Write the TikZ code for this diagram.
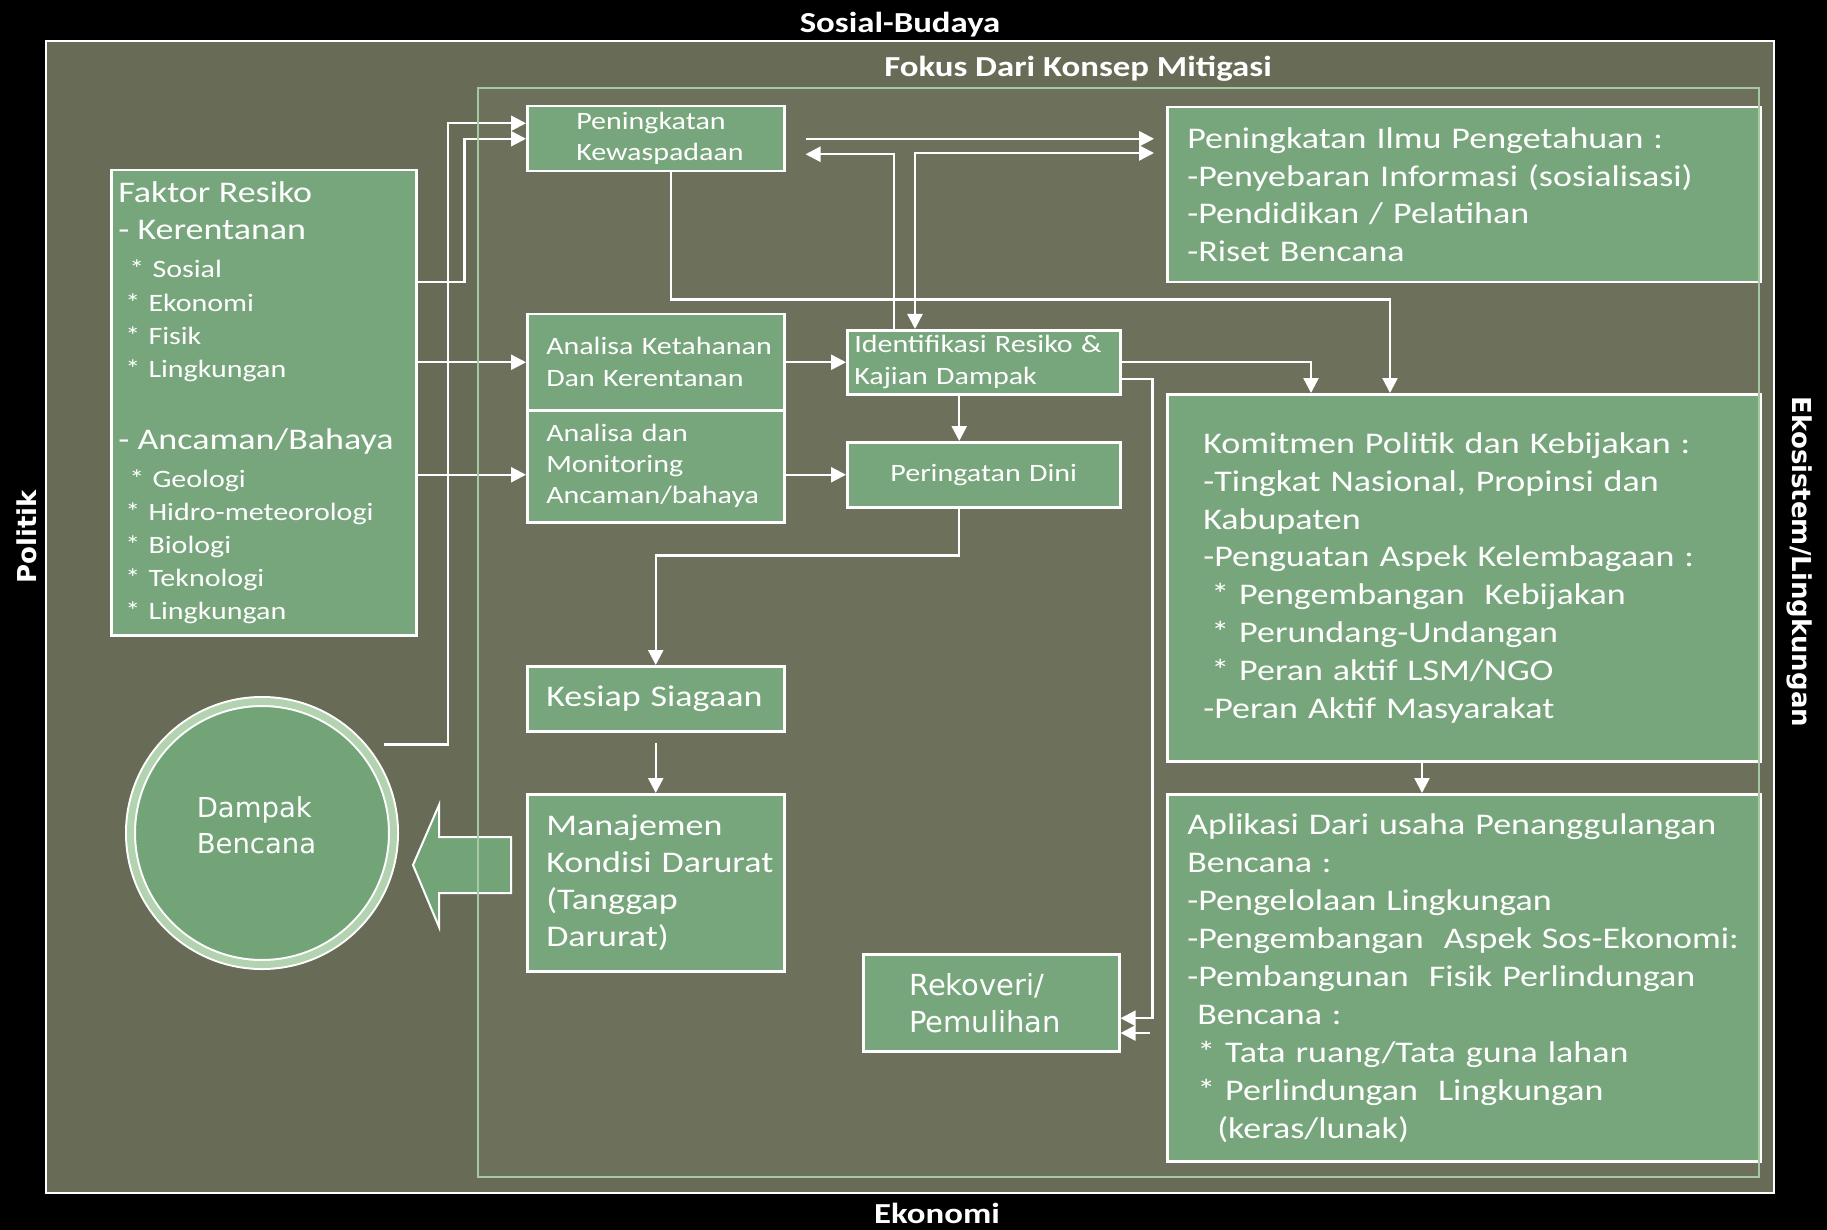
\documentclass[tikz,border=0pt]{standalone}
\usepackage{fontspec}
\setmainfont{Carlito}[FakeStretch=1.2]
\newfontfamily\dejavu{DejaVu Sans}
\usetikzlibrary{arrows.meta}

\definecolor{bgolive}{HTML}{686B56}
\definecolor{inolive}{HTML}{6D715B}
\definecolor{boxgreen}{HTML}{78A67C}
\definecolor{circgreen}{HTML}{72A477}
\definecolor{ringgreen}{HTML}{B3D2B0}
\definecolor{framegreen}{HTML}{A6C8A2}

\begin{document}
\begin{tikzpicture}[x=1pt, y=-1pt,
    box/.style={draw=white, line width=2.5pt, fill=boxgreen, text=white,
      inner xsep=0pt, inner ysep=0pt, anchor=north west, align=left},
    boxsize/.style 2 args={text width=#1pt, minimum width=#1pt, minimum height=#2pt},
    pad/.style={execute at begin node={\leftskip=#1pt}},
    big/.style={font=\fontsize{30}{#1}\selectfont},
    small/.style={font=\fontsize{25}{#1}\selectfont},
    conn/.style={draw=white, line width=2.4pt},
    arr/.style={conn, -{Triangle[length=15pt,width=15pt]}},
    arr2/.style={conn, {Triangle[length=15pt,width=15pt]}-{Triangle[length=15pt,width=15pt]}},
    toptitle/.style={text=white, font=\fontsize{29}{30}\selectfont\bfseries, anchor=base},
    sidetitle/.style={text=white, font=\dejavu\fontsize{26}{28}\selectfont\bfseries}]

  \useasboundingbox (0,0) rectangle (1827,1230);
  \fill[black] (0,0) rectangle (1827,1230);
  \draw[white, line width=2.5pt, fill=bgolive] (46,41) rectangle (1774,1193);
  \fill[inolive] (478,88) rectangle (1759,1177);

  \node[toptitle] (sosbud) at (900,33) {Sosial-Budaya};
  \node[toptitle] (fokus) at (1078,77) {Fokus Dari Konsep Mitigasi};
  \node[toptitle] (ekonomi) at (937,1223) {Ekonomi};
  \node[sidetitle, rotate=90] (politik) at (27,537) {Politik};
  \node[sidetitle, rotate=-90] (ekosistem) at (1800,562) {Ekosistem/Lingkungan};

  \node[box, boxsize={305}{465}, pad=7, small=33] (fr) at (110,169) {%
    {\fontsize{30}{33}\selectfont Faktor Resiko}\\[4pt]
    {\fontsize{30}{33}\selectfont - Kerentanan}\\[5pt]
    \hspace*{11pt}* Sosial\\[1pt]
    \hspace*{7pt}* Ekonomi\\
    \hspace*{7pt}* Fisik\\
    \hspace*{7pt}* Lingkungan\\[39pt]
    {\fontsize{30}{33}\selectfont - Ancaman/Bahaya}\\[5pt]
    \hspace*{11pt}* Geologi\\
    \hspace*{7pt}* Hidro-meteorologi\\
    \hspace*{7pt}* Biologi\\
    \hspace*{7pt}* Teknologi\\
    \hspace*{7pt}* Lingkungan};

  \node[box, boxsize={257}{65}, pad=49, small=31] (pk) at (526,105) {Peningkatan\\Kewaspadaan};
  \node[box, boxsize={257}{96}, pad=19, small=32] (ak) at (526,313) {Analisa Ketahanan\\Dan Kerentanan};
  \node[box, boxsize={257}{112}, pad=19, small=31] (am) at (526,409) {Analisa dan\\Monitoring\\Ancaman/bahaya};
  \node[box, boxsize={273}{64}, pad=7, small=32] (id) at (846,329) {Identifikasi Resiko \&\\Kajian Dampak};
  \node[box, boxsize={273}{65}, small=31, align=center] (pd) at (846,441) {Peringatan Dini};
  \node[box, boxsize={257}{65}, pad=19, big=37] (ks) at (526,665) {Kesiap Siagaan};
  \node[box, boxsize={257}{177}, pad=19, big=37] (md) at (526,793) {Manajemen\\Kondisi Darurat\\(Tanggap\\Darurat)};
  \node[box, boxsize={256}{97}, pad=46, font=\dejavu\fontsize{29}{37}\selectfont] (rp) at (862,953) {Rekoveri/\\Pemulihan};

  \node[box, boxsize={593}{175}, pad=20, big=37.5] (pi) at (1166,106) {%
    Peningkatan Ilmu Pengetahuan :\\
    -Penyebaran Informasi (sosialisasi)\\
    -Pendidikan / Pelatihan\\
    -Riset Bencana};
  \node[box, boxsize={593}{367}, pad=36, big=37.8] (kp) at (1166,393) {%
    Komitmen Politik dan Kebijakan :\\
    -Tingkat Nasional, Propinsi dan\\
    Kabupaten\\
    -Penguatan Aspek Kelembagaan :\\
    \hspace*{8pt}* Pengembangan\ \ Kebijakan\\
    \hspace*{8pt}* Perundang-Undangan\\
    \hspace*{8pt}* Peran aktif LSM/NGO\\
    -Peran Aktif Masyarakat};
  \node[box, boxsize={593}{367}, pad=20, big=38] (ap) at (1166,793) {%
    Aplikasi Dari usaha Penanggulangan\\
    Bencana :\\
    -Pengelolaan Lingkungan\\
    -Pengembangan\ \ Aspek Sos-Ekonomi:\\
    -Pembangunan\ \ Fisik Perlindungan\\
    \hspace*{10pt}Bencana :\\
    \hspace*{10pt}* Tata ruang/Tata guna lahan\\
    \hspace*{10pt}* Perlindungan\ \ Lingkungan\\
    \hspace*{30pt}(keras/lunak)};

  \node[circle, draw=white, line width=2pt, double=ringgreen, double distance=7pt,
    fill=circgreen, minimum size=263pt, inner sep=0pt] (dampak) at (262,833) {};
  \node[text=white, align=left, font=\dejavu\fontsize{27.5}{36}\selectfont] (dampaktxt)
    at (256.5,825.5) {Dampak\\Bencana};

  \draw[white, line width=2pt, fill=circgreen] (413,865) -- (439,805) -- (439,837)
    -- (511,837) -- (511,893) -- (439,893) -- (439,927) -- cycle;

  \draw[arr] ([xshift=15pt,yshift=10.5pt]dampak.36) -- ++(64,0) |- ([yshift=15.5pt]pk.west);
  \draw[arr] ([yshift=120.5pt]fr.east) -- ++(47,0) |- (pk.west);
  \draw[arr] (fr.east |- ak.west) -- (ak.west);
  \draw[arr] (fr.east |- pd.west) -- (am.west |- pd.west);
  \draw[arr] (ak.east) -- (id.west);
  \draw[arr] (am.east |- pd.west) -- (pd.west);
  \draw[arr] ([xshift=-24.5pt]id.south) -- ([xshift=-24.5pt]pd.north);
  \draw[arr] ([xshift=-24.5pt]pd.south) -- ++(0,47) -| (ks.north);
  \draw[arr, shorten <=10pt] (ks.south) -- (md.north);
  \draw[arr, shorten <=20pt, shorten >=12pt] (pk.east) -- (pk.east -| pi.west);
  \draw[arr] ([xshift=48pt]id.north west) |- ([shift={(20,15.5)}]pk.east);
  \draw[arr2] ([xshift=69pt]id.north west) |- ([shift={(-12,47)}]pi.north west);
  \draw[arr] ([xshift=15.5pt]pk.south) -- ++(0,127) -| ([xshift=224pt]kp.north west);
  \draw[arr] (id.east) -| ([xshift=145pt]kp.north west);
  \draw[arr] ([yshift=-17pt]id.east) -- ++(31,0) |- ([yshift=-15.5pt]rp.east);
  \coordinate (rpstub) at (1150,1033);
  \draw[arr] (rpstub) -- (rpstub -| rp.east);
  \draw[arr] ([xshift=256pt]kp.south west) -- ([xshift=256pt]ap.north west);

  \draw[framegreen, line width=2.5pt] (478,88) rectangle (1759,1177);
\end{tikzpicture}
\end{document}
